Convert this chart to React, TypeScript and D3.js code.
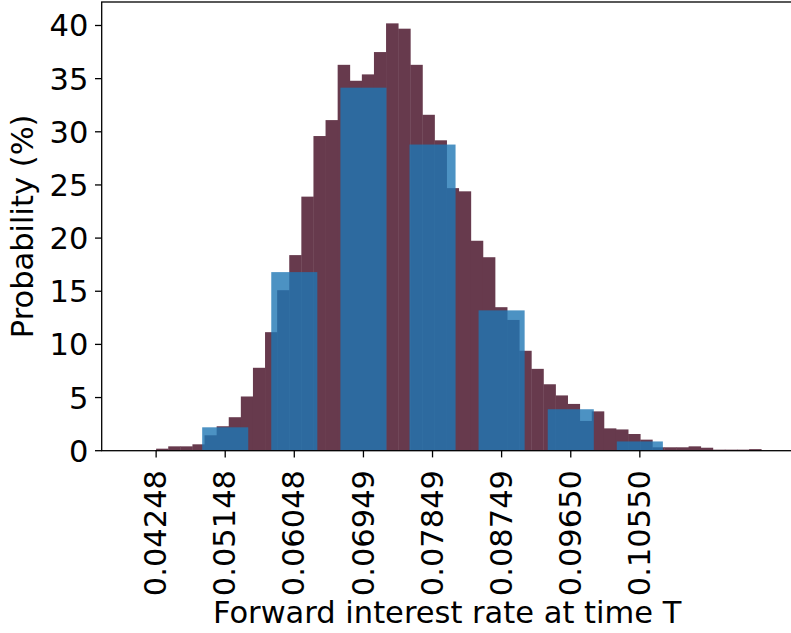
import React, { useEffect, useRef } from "react";
import * as d3 from "d3";

// fine histogram (50 bins), probability in %
const fineStart = 0.04248;
const fineBinWidth = 0.0015766;
const fineValues = [
  0.19, 0.41, 0.41, 0.6, 1.45, 2.3, 3.15, 5.1, 7.8, 11.15,
  15.1, 18.4, 23.9, 29.6, 31.1, 36.3, 34.8, 35.4, 37.5, 40.2,
  39.7, 36.3, 31.6, 29.2, 24.7, 24.4, 19.75, 18.2, 13.5, 12.3,
  9.4, 7.7, 6.25, 5.2, 4.4, 2.8, 3.7, 2.1, 2.0, 1.57,
  1.04, 0.32, 0.32, 0.32, 0.41, 0.28, 0.1, 0.1, 0.1, 0.15,
];

// coarse bars centred on the tick labels
const tickLabels = ["0.04248", "0.05148", "0.06048", "0.06949", "0.07849", "0.08749", "0.09650", "0.10550"];
const coarseValues = [0, 2.2, 16.8, 34.15, 28.8, 13.2, 3.9, 0.87];
const coarseWidth = 0.006;

const yTicks = [0, 5, 10, 15, 20, 25, 30, 35, 40];

const xLabel = "Forward interest rate at time T";
const yLabel = "Probability (%)";

const Chart = () => {
  const svgRef = useRef<SVGSVGElement>(null);

  useEffect(() => {
    const W = 791;
    const H = 633;
    const margin = { top: 2, right: -1.6, bottom: 182.3, left: 101.7 };
    const font = "'DejaVu Sans', sans-serif";
    const fontSize = 30.5;

    const svg = d3.select(svgRef.current);
    svg.selectAll("*").remove();
    svg.attr("width", W).attr("height", H);

    const coarseX = tickLabels.map((t) => +t);
    const fineEdges = fineValues.map((_, i) => fineStart + i * fineBinWidth);
    const xmin = d3.min(coarseX)! - coarseWidth / 2;
    const xmax = fineStart + fineValues.length * fineBinWidth;
    const pad = (xmax - xmin) * 0.05;

    const x = d3
      .scaleLinear()
      .domain([xmin - pad, xmax + pad])
      .range([margin.left, W - margin.right]);
    const y = d3
      .scaleLinear()
      .domain([0, d3.max(fineValues)! * 1.05])
      .range([H - margin.bottom, margin.top]);

    const g = svg.append("g");

    g.append("g")
      .selectAll("rect")
      .data(fineValues)
      .enter()
      .append("rect")
      .attr("x", (_, i) => x(fineEdges[i]))
      .attr("width", x(fineStart + fineBinWidth) - x(fineStart) + 0.4)
      .attr("y", (d) => y(d))
      .attr("height", (d) => y(0) - y(d))
      .attr("fill", "#673a4d");

    g.append("g")
      .selectAll("rect")
      .data(coarseValues)
      .enter()
      .append("rect")
      .attr("x", (_, i) => x(coarseX[i] - coarseWidth / 2))
      .attr("width", x(coarseWidth) - x(0))
      .attr("y", (d) => y(d))
      .attr("height", (d) => y(0) - y(d))
      .attr("fill", "#1f77b4")
      .attr("fill-opacity", 0.8);

    // spines
    const [x0, x1] = x.range();
    const [yb, yt] = y.range();
    g.append("rect")
      .attr("x", x0)
      .attr("y", yt)
      .attr("width", x1 - x0)
      .attr("height", yb - yt)
      .attr("fill", "none")
      .attr("stroke", "#000")
      .attr("stroke-width", 1.3);

    const tickLen = 6.7;

    // x ticks
    const xt = g.append("g");
    coarseX.forEach((v, i) => {
      xt.append("line")
        .attr("x1", x(v))
        .attr("x2", x(v))
        .attr("y1", yb)
        .attr("y2", yb + tickLen)
        .attr("stroke", "#000")
        .attr("stroke-width", 1.3);
      xt.append("text")
        .attr("transform", `translate(${x(v) + 10.2},${yb + 19.3}) rotate(-90)`)
        .attr("text-anchor", "end")
        .attr("font-family", font)
        .attr("font-size", fontSize)
        .attr("fill", "#000")
        .text(tickLabels[i]);
    });

    // y ticks
    const ytg = g.append("g");
    yTicks.forEach((v) => {
      ytg.append("line")
        .attr("x1", x0 - tickLen)
        .attr("x2", x0)
        .attr("y1", y(v))
        .attr("y2", y(v))
        .attr("stroke", "#000")
        .attr("stroke-width", 1.3);
      ytg.append("text")
        .attr("x", x0 - tickLen - 6.6)
        .attr("y", y(v) + 11)
        .attr("text-anchor", "end")
        .attr("font-family", font)
        .attr("font-size", fontSize)
        .attr("fill", "#000")
        .text(String(v));
    });

    g.append("text")
      .attr("x", (x0 + x1) / 2)
      .attr("y", 623)
      .attr("text-anchor", "middle")
      .attr("font-family", font)
      .attr("font-size", fontSize)
      .attr("fill", "#000")
      .text(xLabel);

    g.append("text")
      .attr("transform", `translate(32.5,${(yb + yt) / 2}) rotate(-90)`)
      .attr("text-anchor", "middle")
      .attr("font-family", font)
      .attr("font-size", fontSize)
      .attr("fill", "#000")
      .text(yLabel);
  }, []);

  return (
    <svg
      ref={svgRef}
      style={{ position: "absolute", left: 0, top: 0, display: "block", overflow: "hidden" }}
    ></svg>
  );
};

export default function App() {
  return <Chart />;
}
